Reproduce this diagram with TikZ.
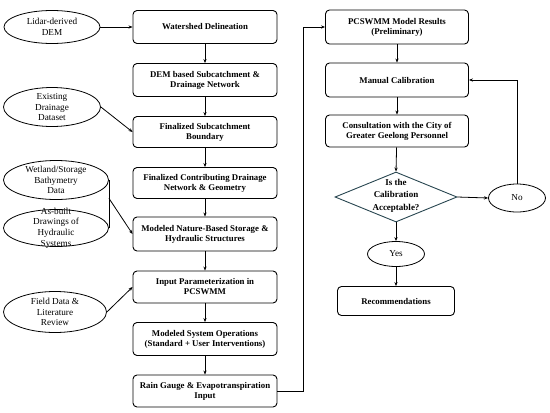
\documentclass[tikz,border=0pt]{standalone}
\usepackage{fontspec}
\setmainfont{Liberation Serif}
\usetikzlibrary{shapes.geometric,arrows.meta,calc}
\definecolor{diacol}{RGB}{40,70,80}
\begin{document}
\begin{tikzpicture}[x=1pt,y=-1pt,
  every node/.style={font=\fontsize{9.2}{10.6}\selectfont, align=center},
  box/.style={draw, rounded corners=4pt, line width=0.9pt, minimum width=144pt, font=\fontsize{8.8}{10}\selectfont\bfseries, inner sep=1pt},
  rbox/.style={box, minimum width=143pt},
  oval/.style={draw, ellipse, line width=0.8pt, inner sep=0pt},
  conn/.style={line width=0.8pt, -{Stealth[length=4pt,width=3.2pt]}},
  plain/.style={line width=0.8pt}
]
\useasboundingbox (0,0) rectangle (550,413);
% left column boxes
\node[box, minimum height=33pt] (ws)  at (205,27)  {Watershed Delineation};
\node[box, minimum height=33pt] (dem) at (205,80)  {DEM based Subcatchment \&\\Drainage Network};
\node[box, minimum height=31pt] (fsb) at (205,132) {Finalized Subcatchment\\Boundary};
\node[box, minimum height=31pt] (fcd) at (205,183) {Finalized Contributing Drainage\\Network \& Geometry};
\node[box, minimum height=34pt] (mnb) at (205,234) {Modeled Nature-Based Storage \&\\Hydraulic Structures};
\node[box, minimum height=32pt] (ip)  at (205,287) {Input Parameterization in\\PCSWMM};
\node[box, minimum height=33pt] (mso) at (205,339) {Modeled System Operations\\(Standard + User Interventions)};
\node[box, minimum height=32pt] (rg)  at (205,391) {Rain Gauge \& Evapotranspiration\\Input};
% left ellipses
\node[oval, minimum width=96pt, minimum height=33pt] (lid) at (52,27) {};
\node at (lid) {Lidar-derived\\DEM};
\node[oval, minimum width=97pt, minimum height=39pt] (edd) at (52,107) {};
\node at (edd) {Existing\\Drainage\\Dataset};
\node[oval, minimum width=105pt, minimum height=39pt] (wet) at (56,180) {};
\node at (wet) {Wetland/Storage\\Bathymetry\\Data};
\node[oval, minimum width=105pt, minimum height=37pt] (asb) at (56,228) {};
\node at (asb) {As-built\\Drawings of\\Hydraulic\\Systems};
\node[oval, minimum width=103pt, minimum height=41pt] (fld) at (55,312) {};
\node at (fld) {Field Data \&\\Literature\\Review};
% right column
\node[rbox, minimum height=34pt] (pr)  at (397,27)  {PCSWMM Model Results\\(Preliminary)};
\node[rbox, minimum height=34pt] (mc)  at (397,80)  {Manual Calibration};
\node[rbox, minimum height=32pt] (con) at (397,131) {Consultation with the City of\\Greater Geelong Personnel};
\node[draw=diacol, diamond, line width=0.9pt, minimum width=122pt, minimum height=50pt, inner sep=0pt] (dia) at (396,197) {};
\node[font=\fontsize{9}{12.5}\selectfont\bfseries] at (396,195.5) {Is the\\Calibration\\Acceptable?};
\node[oval, minimum width=57pt, minimum height=28pt] (no) at (517,198) {No};
\node[oval, minimum width=57pt, minimum height=25pt] (yes) at (396,254) {Yes};
\node[box, minimum width=117pt, minimum height=29pt] (rec) at (396,301) {Recommendations};
% left flow
\draw[conn] (ws) -- (dem);
\draw[conn] (dem) -- (fsb);
\draw[conn] (fsb) -- (fcd);
\draw[conn] (fcd) -- (mnb);
\draw[conn] (mnb) -- (ip);
\draw[conn] (ip) -- (mso);
\draw[conn] (mso) -- (rg);
% inputs
\draw[conn] (lid.east) -- (ws.west);
\draw[conn] (edd.east) -- (fsb.west);
\draw[plain] (wet.east) -- (asb.east);
\coordinate (wj) at ($(wet.east)!0.38!(asb.east)$);
\draw[conn] (wj) -- (mnb.west);
\draw[conn] (fld.east) -- (ip.west);
% loop to right column
\draw[conn] (rg.east) -- ++(26,0) |- (pr.west);
\draw[conn] (pr) -- (mc);
\draw[conn] (mc) -- (con);
\draw[conn] (con) -- (dia.north);
\draw[conn] (dia.east) -- (no.west);
\draw[conn] (no.north) |- (mc.east);
\draw[conn] (dia.south) -- (yes.north);
\draw[conn] (yes) -- (rec);
\end{tikzpicture}
\end{document}
